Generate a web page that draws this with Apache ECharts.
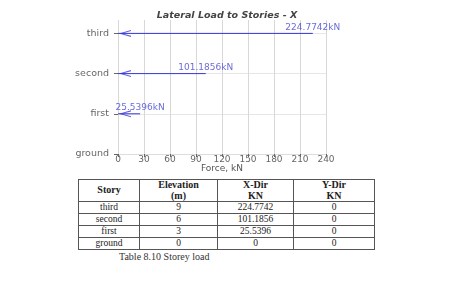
<!DOCTYPE html>
<html>
<head>
<meta charset="utf-8">
<script src="https://cdn.jsdelivr.net/npm/echarts@6/dist/echarts.min.js"></script>
<style>
  body { margin: 0; background: #fff; width: 469px; height: 283px; overflow: hidden; position: relative; }
  #chart { position: absolute; left: 0; top: 0; width: 469px; height: 175px; }
  #loadTable {
    position: absolute; left: 78px; top: 179px; width: 296px;
    border-collapse: collapse; font-family: "Liberation Serif", "Times New Roman", serif;
    font-size: 9.5px; color: #222; table-layout: fixed;
  }
  #loadTable th, #loadTable td { border: 1px solid #555; text-align: center; padding: 0; }
  #loadTable th { font-weight: bold; font-size: 10px; line-height: 10.5px; height: 21px; }
  #loadTable td { height: 11px; line-height: 11px; }
  #caption {
    position: absolute; left: 119px; top: 251px;
    font-family: "Liberation Serif", "Times New Roman", serif; font-size: 10px; color: #333;
  }
</style>
</head>
<body>
<div id="chart"></div>
<table id="loadTable">
  <colgroup><col style="width:61px"><col style="width:78px"><col style="width:76px"><col style="width:81px"></colgroup>
  <thead><tr><th>Story</th><th>Elevation<br>(m)</th><th>X-Dir<br>KN</th><th>Y-Dir<br>KN</th></tr></thead>
  <tbody id="rows"></tbody>
</table>
<div id="caption">Table 8.10 Storey load</div>
<script>
  // storey data (bottom to top)
  var stories = ['ground', 'first', 'second', 'third']
  var elevations = [0, 3, 6, 9]
  var xForce = [0, 25.5396, 101.1856, 224.7742]
  var yForce = [0, 0, 0, 0]
  var xTicks = [0, 30, 60, 90, 120, 150, 180, 210, 240]

  // table rows, top storey first
  var rowsHtml = ''
  for (var i = stories.length - 1; i >= 0; i--) {
    rowsHtml += '<tr><td>' + stories[i] + '</td><td>' + elevations[i] + '</td><td>' +
      xForce[i] + '</td><td>' + yForce[i] + '</td></tr>'
  }
  document.getElementById('rows').innerHTML = rowsHtml

  var arrowColor = '#3535d6'
  var nameOf = {}
  elevations.forEach(function (e, i) { nameOf[e] = stories[i] })

  var loaded = []
  xForce.forEach(function (v, i) { if (v > 0) loaded.push(i) })

  // one shaft per loaded storey, separated by gaps
  var shafts = []
  loaded.forEach(function (i) {
    shafts.push([0, elevations[i]], [xForce[i], elevations[i]], '-')
  })

  var option = {
    animation: false,
    title: {
      text: 'Lateral Load to Stories - X',
      left: 222, top: 6, textAlign: 'center',
      textStyle: { fontFamily: 'DejaVu Sans', fontSize: 9.5, fontStyle: 'italic', fontWeight: 'bold', color: '#444' }
    },
    grid: { left: 118, right: 143, top: 20, bottom: 21, outerBoundsMode: 'none' },
    xAxis: {
      type: 'value', min: xTicks[0], max: xTicks[xTicks.length - 1], interval: 30,
      name: 'Force, kN', nameLocation: 'middle', nameGap: 10, nameMoveOverlap: false,
      nameTextStyle: { fontFamily: 'DejaVu Sans', fontSize: 9, color: '#555' },
      axisLine: { show: true, lineStyle: { color: '#ddd' } },
      axisTick: { show: true, length: 3, lineStyle: { color: '#666' } },
      axisLabel: { fontFamily: 'DejaVu Sans', fontSize: 9, color: '#666', margin: 1 },
      splitLine: { lineStyle: { color: '#d8d8d8' } }
    },
    yAxis: {
      type: 'value', min: 0, max: 10, interval: 3,
      axisLine: { show: false },
      axisTick: { show: true, length: 4, lineStyle: { color: '#666' }, customValues: elevations },
      axisLabel: {
        fontFamily: 'DejaVu Sans', fontSize: 9.5, color: '#666', margin: 9,
        customValues: elevations,
        formatter: function (v) { return nameOf[v] || '' }
      },
      splitLine: { lineStyle: { color: ['#e6e6e6', '#e6e6e6', '#e6e6e6', '#e6e6e6', 'rgba(0,0,0,0)'] } }
    },
    series: [
      {
        type: 'line',
        symbol: 'none',
        connectNulls: false,
        z: 3,
        itemStyle: { color: arrowColor },
        lineStyle: { color: arrowColor, width: 1 },
        data: shafts
      },
      {
        type: 'scatter',
        symbol: 'path://M10,0 L0,5 L10,10 L10,8.4 L2.8,5 L10,1.6 Z',
        symbolSize: [12, 7],
        symbolOffset: [7, 0],
        z: 4,
        itemStyle: { color: arrowColor },
        data: loaded.map(function (i) { return [0, elevations[i]] })
      },
      {
        type: 'scatter',
        symbolSize: 1,
        itemStyle: { color: 'rgba(0,0,0,0)' },
        label: {
          show: true, position: 'top', distance: 1,
          fontFamily: 'DejaVu Sans', fontSize: 9, color: '#4545d0',
          formatter: function (p) { return p.value[0] + 'kN' }
        },
        data: loaded.map(function (i) { return [xForce[i], elevations[i]] })
      }
    ]
  }

  var chart = echarts.init(document.getElementById('chart'))
  chart.setOption(option)
</script>
</body>
</html>
